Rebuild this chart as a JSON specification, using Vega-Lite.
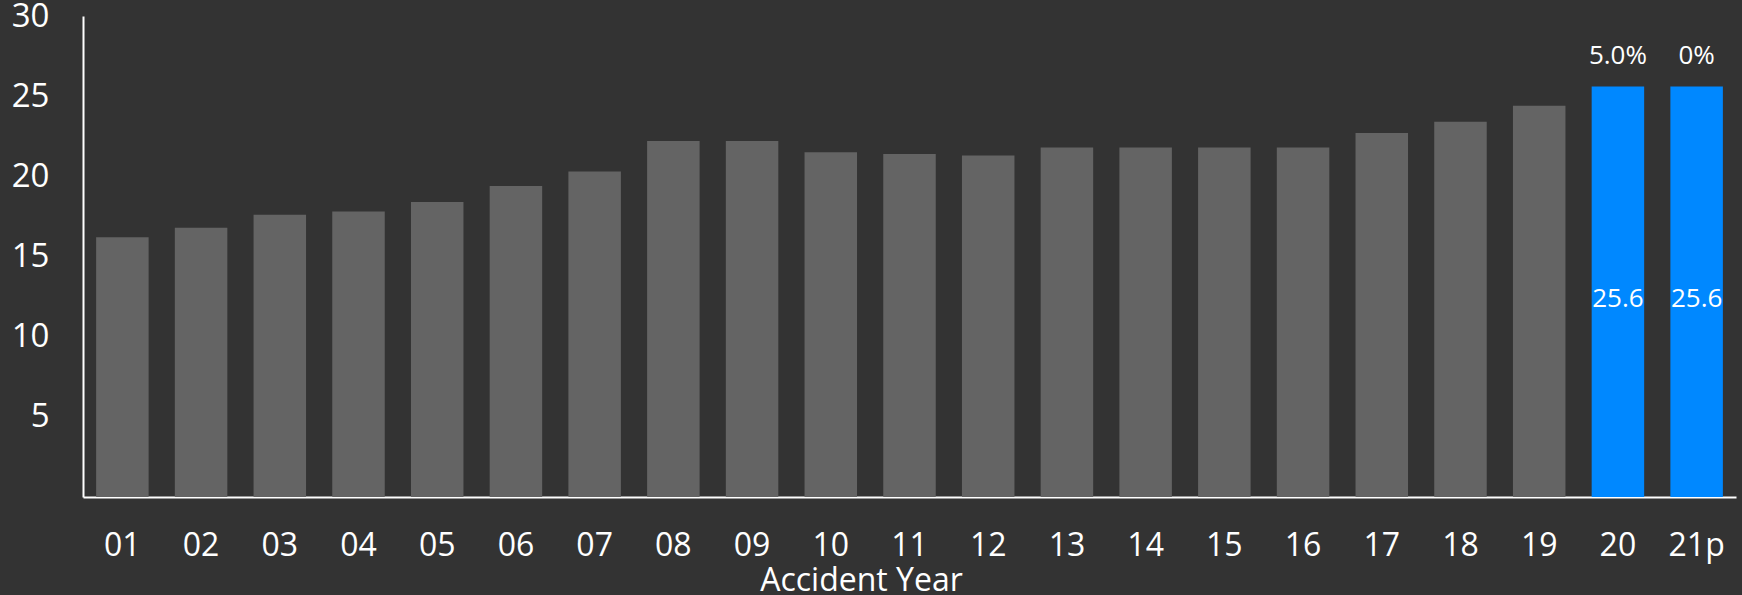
{
  "$schema": "https://vega.github.io/schema/vega-lite/v6.json",
  "autosize": {"type": "none"},
  "width": 1653,
  "height": 481,
  "padding": {"left": 83, "top": 16, "right": 6, "bottom": 98},
  "background": "#333333",
  "config": {
    "view": {"stroke": null},
    "font": "Open Sans",
    "axis": {"grid": false, "ticks": false, "domainColor": "#ffffff", "domainWidth": 2, "labelColor": "#ffffff", "labelFont": "Open Sans", "titleColor": "#ffffff", "titleFont": "Open Sans", "titleFontWeight": "normal"}
  },
  "data": {
    "values": [
      {"year": "01", "value": 16.2, "group": "past"},
      {"year": "02", "value": 16.8, "group": "past"},
      {"year": "03", "value": 17.6, "group": "past"},
      {"year": "04", "value": 17.8, "group": "past"},
      {"year": "05", "value": 18.4, "group": "past"},
      {"year": "06", "value": 19.4, "group": "past"},
      {"year": "07", "value": 20.3, "group": "past"},
      {"year": "08", "value": 22.2, "group": "past"},
      {"year": "09", "value": 22.2, "group": "past"},
      {"year": "10", "value": 21.5, "group": "past"},
      {"year": "11", "value": 21.4, "group": "past"},
      {"year": "12", "value": 21.3, "group": "past"},
      {"year": "13", "value": 21.8, "group": "past"},
      {"year": "14", "value": 21.8, "group": "past"},
      {"year": "15", "value": 21.8, "group": "past"},
      {"year": "16", "value": 21.8, "group": "past"},
      {"year": "17", "value": 22.7, "group": "past"},
      {"year": "18", "value": 23.4, "group": "past"},
      {"year": "19", "value": 24.4, "group": "past"},
      {"year": "20", "value": 25.6, "group": "recent", "change": "5.0%"},
      {"year": "21p", "value": 25.6, "group": "recent", "change": "0%"}
    ]
  },
  "encoding": {
    "x": {
      "field": "year",
      "type": "ordinal",
      "sort": null,
      "scale": {"paddingInner": 0.333, "paddingOuter": 0.1667},
      "axis": {"title": "Accident Year", "labelAngle": 0, "labelFontSize": 32, "labelPadding": 33, "titleFontSize": 32, "titleX": 778, "titleY": 93, "titleAlign": "center", "titleBaseline": "alphabetic", "titleAnchor": null}
    },
    "y": {
      "field": "value",
      "type": "quantitative",
      "scale": {"domain": [0, 30], "nice": false},
      "axis": {"title": null, "values": [5, 10, 15, 20, 25, 30], "labelFontSize": 33, "labelPadding": 34}
    }
  },
  "layer": [
    {
      "mark": {"type": "bar"},
      "encoding": {
        "color": {"field": "group", "type": "nominal", "scale": {"domain": ["past", "recent"], "range": ["#646464", "#0088ff"]}, "legend": null}
      }
    },
    {
      "transform": [{"filter": "datum.group === 'recent'"}],
      "mark": {"type": "text", "color": "#ffffff", "fontSize": 26, "baseline": "bottom", "dy": -18},
      "encoding": {"text": {"field": "change"}}
    },
    {
      "transform": [{"filter": "datum.group === 'recent'"}],
      "mark": {"type": "text", "color": "#ffffff", "fontSize": 26, "baseline": "middle", "dy": 212},
      "encoding": {"text": {"field": "value", "type": "quantitative", "format": ".1f"}}
    }
  ]
}
